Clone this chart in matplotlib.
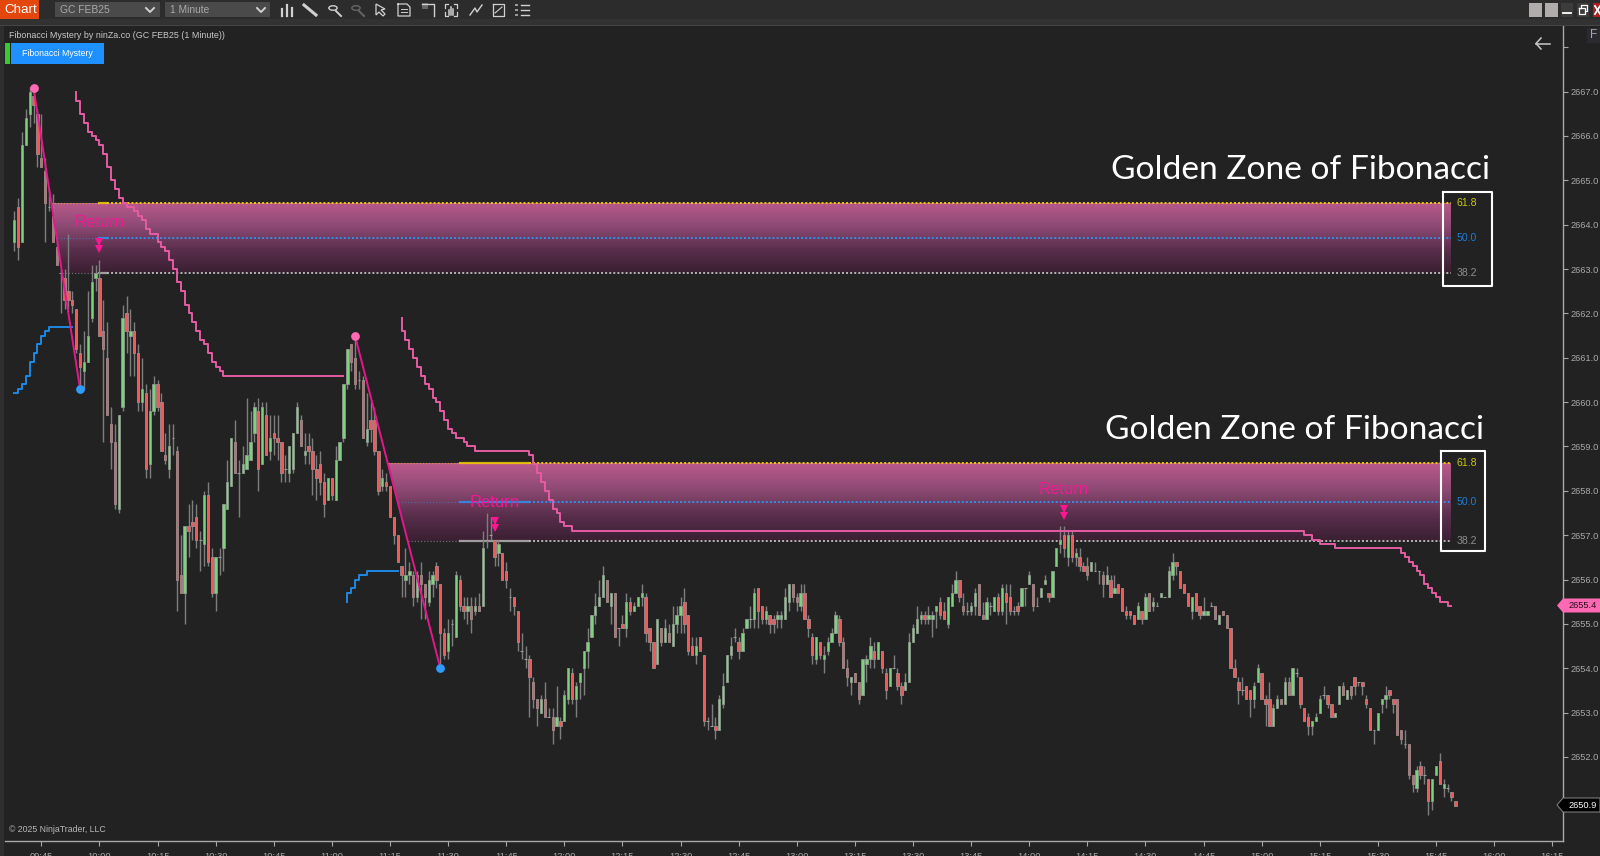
import numpy as np
import matplotlib
matplotlib.use('Agg')
import matplotlib.pyplot as plt
from matplotlib.colors import LinearSegmentedColormap
from matplotlib.patches import Polygon, Rectangle, Circle

plt.rcParams['font.family'] = ['Liberation Sans', 'DejaVu Sans']

# 1 minute candles, first bar is 09:38 (minute of day 578), ten bars per row
first_minute = 578
opens = [
    2663.6, 2664.4, 2663.6, 2665.8, 2666.5, 2666.9, 2666.5, 2665.5, 2665.2, 2664.4,
    2664.2, 2663.5, 2662.9, 2662.8, 2662.5, 2662.3, 2662.1, 2661.1, 2660.7, 2660.9,
    2661.9, 2662.8, 2662.8, 2661.6, 2661.0, 2659.5, 2659.1, 2657.6, 2659.9, 2662.0,
    2661.5, 2661.6, 2661.1, 2660.0, 2660.2, 2658.6, 2659.8, 2660.4, 2660.0, 2658.8,
    2658.5, 2659.2, 2658.9, 2656.1, 2655.7, 2657.2, 2657.3, 2657.4, 2656.9, 2656.8,
    2657.9, 2656.5, 2655.7, 2656.5, 2656.7, 2657.6, 2658.1, 2659.1, 2658.4, 2658.4,
    2658.5, 2658.7, 2659.3, 2659.8, 2658.6, 2659.7, 2658.9, 2659.3, 2659.2, 2659.1,
    2658.5, 2658.4, 2658.5, 2659.3, 2659.6, 2658.8, 2659.0, 2658.9, 2658.5, 2658.6,
    2658.2, 2657.8, 2658.3, 2657.8, 2658.7, 2659.2, 2660.4, 2661.3, 2661.0, 2660.5,
    2660.5, 2659.1, 2659.6, 2659.6, 2658.9, 2658.1, 2658.2, 2658.1, 2657.4, 2657.0,
    2656.3, 2656.0, 2656.1, 2656.1, 2655.6, 2656.1, 2655.9, 2655.5, 2655.9, 2656.3,
    2655.9, 2654.8, 2654.4, 2655.0, 2654.7, 2656.0, 2655.4, 2655.3, 2655.4, 2655.3,
    2655.4, 2655.4, 2656.9, 2657.0, 2656.9, 2656.6, 2656.6, 2656.2, 2655.6, 2655.6,
    2655.3, 2654.4, 2654.2, 2654.2, 2653.7, 2653.3, 2653.0, 2653.3, 2652.9, 2652.9,
    2652.7, 2652.8, 2652.8, 2653.3, 2653.9, 2653.3, 2653.7, 2654.0, 2654.4, 2654.7,
    2655.2, 2655.4, 2655.6, 2656.0, 2655.4, 2655.7, 2654.9, 2655.0, 2654.9, 2655.5,
    2655.3, 2655.4, 2655.6, 2655.6, 2654.9, 2654.6, 2654.1, 2654.9, 2654.6, 2654.8,
    2654.5, 2655.0, 2655.2, 2655.5, 2655.2, 2654.5, 2654.3, 2654.7, 2654.3, 2652.8,
    2652.7, 2652.7, 2652.6, 2653.2, 2653.7, 2654.3, 2654.7, 2654.6, 2654.4, 2654.9,
    2655.1, 2655.1, 2655.8, 2655.4, 2655.1, 2655.2, 2655.1, 2655.1, 2655.1, 2655.1,
    2655.5, 2655.9, 2655.6, 2655.4, 2655.7, 2655.1, 2654.7, 2654.2, 2654.6, 2654.2,
    2654.4, 2654.6, 2654.8, 2655.1, 2654.6, 2654.0, 2653.7, 2653.9, 2653.7, 2653.4,
    2654.1, 2654.2, 2654.4, 2654.2, 2654.4, 2653.9, 2653.6, 2654.0, 2653.9, 2653.6,
    2653.5, 2653.7, 2654.6, 2654.8, 2655.1, 2655.2, 2655.1, 2655.1, 2655.3, 2655.5,
    2655.3, 2655.0, 2655.4, 2655.7, 2656.0, 2655.4, 2655.3, 2655.3, 2655.4, 2655.9,
    2655.2, 2655.1, 2655.4, 2655.3, 2655.6, 2655.3, 2655.7, 2655.6, 2655.3, 2655.4,
    2655.4, 2655.8, 2655.9, 2655.9, 2655.4, 2655.6, 2655.9, 2655.7, 2655.6, 2656.3,
    2656.8, 2657.0, 2656.5, 2657.0, 2656.5, 2656.5, 2656.3, 2656.3, 2656.2, 2656.2,
    2656.2, 2656.1, 2655.9, 2656.0, 2655.7, 2655.9, 2655.8, 2655.3, 2655.3, 2655.2,
    2655.1, 2655.3, 2655.1, 2655.7, 2655.4, 2655.4, 2655.6, 2655.6, 2655.6, 2656.1,
    2656.4, 2656.2, 2655.9, 2655.7, 2655.3, 2655.7, 2655.4, 2655.2, 2655.2, 2655.4,
    2655.4, 2655.0, 2655.3, 2655.2, 2654.9, 2654.0, 2653.7, 2653.5, 2653.6, 2653.5,
    2653.3, 2653.7, 2653.9, 2653.3, 2653.3, 2652.7, 2653.1, 2653.3, 2653.2, 2653.7,
    2653.4, 2653.9, 2653.8, 2653.1, 2652.9, 2652.7, 2652.8, 2653.0, 2653.4, 2653.4,
    2653.2, 2652.9, 2653.2, 2653.6, 2653.3, 2653.6, 2653.8, 2653.7, 2653.7, 2653.3,
    2653.1, 2652.6, 2652.6, 2653.2, 2653.3, 2653.5, 2653.3, 2653.3, 2652.6, 2652.3,
    2652.3, 2651.6, 2651.3, 2651.8, 2651.6, 2651.5, 2651.0, 2651.6, 2651.9, 2651.3,
    2651.3, 2651.2, 2651.0,
]
closes = [
    2664.1, 2663.5, 2665.8, 2666.4, 2667.0, 2666.7, 2665.6, 2665.3, 2664.5, 2664.4,
    2663.6, 2663.1, 2662.9, 2662.3, 2662.3, 2662.2, 2661.2, 2660.8, 2660.9, 2661.5,
    2662.7, 2662.9, 2661.5, 2661.2, 2659.7, 2659.1, 2657.7, 2659.7, 2661.9, 2661.6,
    2661.6, 2661.1, 2660.0, 2660.3, 2658.5, 2659.8, 2660.4, 2659.9, 2658.9, 2658.7,
    2659.0, 2659.2, 2656.0, 2655.7, 2657.2, 2657.1, 2657.2, 2656.9, 2656.9, 2657.9,
    2656.4, 2655.7, 2656.5, 2656.5, 2657.7, 2658.2, 2659.2, 2658.4, 2658.4, 2658.6,
    2658.8, 2659.1, 2659.9, 2658.5, 2659.9, 2658.8, 2659.2, 2659.2, 2659.1, 2658.4,
    2658.5, 2659.0, 2659.3, 2659.9, 2659.0, 2658.9, 2658.9, 2658.5, 2658.3, 2658.2,
    2657.7, 2658.3, 2657.9, 2658.7, 2659.1, 2660.4, 2661.2, 2660.9, 2660.4, 2660.5,
    2659.2, 2659.4, 2659.4, 2658.9, 2658.0, 2658.3, 2658.1, 2657.4, 2657.0, 2656.4,
    2656.1, 2656.1, 2656.2, 2655.6, 2656.1, 2655.9, 2655.6, 2656.0, 2656.1, 2656.0,
    2654.8, 2654.3, 2654.8, 2655.0, 2656.1, 2655.4, 2655.3, 2655.4, 2655.1, 2655.4,
    2655.3, 2656.7, 2656.9, 2657.0, 2656.5, 2656.8, 2656.0, 2656.0, 2655.6, 2655.4,
    2654.6, 2654.4, 2654.2, 2653.8, 2653.3, 2653.1, 2653.3, 2652.9, 2652.9, 2652.6,
    2652.9, 2652.7, 2653.4, 2654.0, 2653.3, 2653.6, 2653.9, 2654.4, 2654.6, 2655.2,
    2655.4, 2655.6, 2656.1, 2655.5, 2655.7, 2654.7, 2654.9, 2654.9, 2655.5, 2655.3,
    2655.4, 2655.6, 2655.7, 2654.8, 2654.6, 2654.0, 2655.1, 2654.6, 2654.9, 2654.6,
    2655.0, 2655.2, 2655.4, 2655.0, 2654.4, 2654.3, 2654.5, 2654.4, 2652.8, 2652.8,
    2652.7, 2652.6, 2653.3, 2653.6, 2654.3, 2654.5, 2654.7, 2654.4, 2654.8, 2655.1,
    2655.1, 2655.7, 2655.3, 2655.1, 2655.3, 2655.0, 2655.0, 2655.2, 2655.2, 2655.6,
    2655.9, 2655.6, 2655.5, 2655.7, 2655.1, 2654.9, 2654.3, 2654.7, 2654.3, 2654.3,
    2654.6, 2654.8, 2655.2, 2654.6, 2654.0, 2653.8, 2653.8, 2653.7, 2653.3, 2654.2,
    2654.2, 2654.5, 2654.2, 2654.6, 2654.0, 2653.5, 2654.0, 2654.0, 2653.6, 2653.4,
    2653.7, 2654.6, 2654.9, 2655.1, 2655.2, 2655.1, 2655.2, 2655.2, 2655.4, 2655.2,
    2655.1, 2655.6, 2655.7, 2656.0, 2655.6, 2655.3, 2655.3, 2655.4, 2655.7, 2655.2,
    2655.1, 2655.5, 2655.4, 2655.6, 2655.3, 2655.8, 2655.5, 2655.3, 2655.3, 2655.3,
    2655.8, 2655.8, 2656.1, 2655.4, 2655.4, 2655.8, 2656.0, 2655.6, 2656.2, 2656.7,
    2656.9, 2656.7, 2657.0, 2656.5, 2656.6, 2656.3, 2656.2, 2656.1, 2656.4, 2656.2,
    2656.2, 2655.9, 2656.1, 2655.6, 2655.8, 2655.7, 2655.3, 2655.2, 2655.2, 2655.0,
    2655.4, 2655.1, 2655.6, 2655.3, 2655.5, 2655.4, 2655.7, 2655.6, 2656.2, 2656.4,
    2656.3, 2655.8, 2655.7, 2655.4, 2655.6, 2655.3, 2655.2, 2655.3, 2655.3, 2655.4,
    2655.1, 2655.2, 2655.2, 2654.9, 2654.0, 2653.8, 2653.5, 2653.5, 2653.3, 2653.3,
    2653.6, 2654.0, 2653.3, 2653.2, 2652.7, 2653.1, 2653.3, 2653.2, 2653.7, 2653.4,
    2654.0, 2653.9, 2653.2, 2652.8, 2652.7, 2652.8, 2652.9, 2653.3, 2653.4, 2653.2,
    2652.9, 2653.0, 2653.6, 2653.4, 2653.5, 2653.4, 2653.6, 2653.7, 2653.6, 2653.2,
    2652.6, 2652.6, 2653.0, 2653.3, 2653.4, 2653.4, 2653.2, 2652.5, 2652.4, 2652.3,
    2651.6, 2651.4, 2651.7, 2651.6, 2651.6, 2651.0, 2651.5, 2651.8, 2651.4, 2651.4,
    2651.3, 2651.1, 2650.9,
]
highs = [
    2664.3, 2664.6, 2666.1, 2666.6, 2667.1, 2667.1, 2666.6, 2666.5, 2665.5, 2664.8,
    2664.7, 2663.6, 2663.0, 2663.0, 2663.8, 2662.5, 2662.1, 2661.3, 2661.6, 2662.5,
    2663.1, 2663.1, 2663.2, 2662.3, 2661.8, 2659.9, 2659.5, 2659.7, 2662.2, 2662.4,
    2662.1, 2661.8, 2661.3, 2661.0, 2660.4, 2660.3, 2660.6, 2660.5, 2660.2, 2659.3,
    2659.5, 2659.5, 2659.0, 2657.0, 2657.2, 2657.7, 2657.8, 2657.7, 2657.1, 2658.0,
    2658.2, 2656.7, 2656.5, 2656.7, 2657.7, 2658.7, 2659.2, 2659.6, 2658.7, 2659.0,
    2660.1, 2659.8, 2660.0, 2660.1, 2660.0, 2660.0, 2659.7, 2659.7, 2659.7, 2659.1,
    2658.8, 2659.0, 2659.3, 2660.0, 2659.7, 2659.3, 2659.3, 2659.2, 2658.8, 2658.9,
    2658.4, 2658.3, 2658.3, 2659.0, 2659.1, 2660.4, 2661.2, 2661.3, 2661.4, 2660.7,
    2660.6, 2660.2, 2660.0, 2659.9, 2658.9, 2658.5, 2658.4, 2658.1, 2657.4, 2657.0,
    2656.3, 2656.7, 2656.4, 2656.2, 2656.2, 2656.4, 2655.9, 2656.2, 2656.2, 2656.4,
    2655.9, 2654.9, 2655.1, 2655.1, 2656.2, 2656.1, 2655.6, 2655.6, 2655.6, 2655.6,
    2655.7, 2657.1, 2657.5, 2657.4, 2656.9, 2656.9, 2656.6, 2656.4, 2655.8, 2655.6,
    2655.3, 2654.8, 2654.5, 2654.3, 2653.8, 2653.3, 2653.4, 2653.7, 2653.1, 2653.1,
    2653.6, 2652.9, 2653.5, 2654.0, 2654.0, 2653.7, 2653.9, 2654.4, 2654.9, 2655.2,
    2655.7, 2656.0, 2656.3, 2656.0, 2655.7, 2655.7, 2654.9, 2655.2, 2655.7, 2655.6,
    2655.5, 2655.6, 2655.9, 2655.7, 2654.9, 2654.6, 2655.1, 2654.9, 2655.1, 2655.0,
    2655.4, 2655.4, 2655.6, 2655.8, 2655.2, 2654.7, 2654.7, 2654.7, 2654.3, 2652.9,
    2653.2, 2652.9, 2653.4, 2653.9, 2654.3, 2654.7, 2654.9, 2654.7, 2654.9, 2655.1,
    2655.4, 2655.8, 2655.8, 2655.4, 2655.4, 2655.2, 2655.2, 2655.3, 2655.3, 2655.8,
    2655.9, 2655.9, 2655.7, 2655.9, 2655.9, 2655.2, 2654.8, 2654.7, 2654.6, 2654.5,
    2654.7, 2654.9, 2655.3, 2655.2, 2654.7, 2654.2, 2653.8, 2653.9, 2653.7, 2654.2,
    2654.3, 2654.7, 2654.6, 2654.6, 2654.4, 2654.0, 2654.0, 2654.3, 2654.0, 2653.7,
    2653.9, 2654.8, 2655.0, 2655.4, 2655.3, 2655.3, 2655.4, 2655.3, 2655.4, 2655.6,
    2655.5, 2655.6, 2655.9, 2656.2, 2656.0, 2655.7, 2655.5, 2655.5, 2655.8, 2655.9,
    2655.5, 2655.6, 2655.5, 2655.6, 2655.7, 2655.9, 2655.9, 2655.9, 2655.4, 2655.5,
    2655.8, 2655.8, 2656.2, 2655.9, 2655.6, 2655.8, 2656.1, 2655.7, 2656.2, 2656.7,
    2657.2, 2657.2, 2657.1, 2657.1, 2656.7, 2656.7, 2656.4, 2656.5, 2656.4, 2656.4,
    2656.2, 2656.2, 2656.3, 2656.1, 2656.1, 2655.9, 2655.8, 2655.4, 2655.3, 2655.2,
    2655.5, 2655.3, 2655.7, 2655.7, 2655.6, 2655.5, 2655.7, 2655.6, 2656.3, 2656.6,
    2656.4, 2656.2, 2655.9, 2655.7, 2655.6, 2655.7, 2655.4, 2655.6, 2655.3, 2655.5,
    2655.4, 2655.2, 2655.3, 2655.2, 2654.9, 2654.2, 2653.8, 2653.8, 2653.6, 2653.5,
    2653.7, 2654.1, 2653.9, 2653.4, 2653.7, 2653.2, 2653.4, 2653.3, 2653.8, 2653.8,
    2654.0, 2654.0, 2653.8, 2653.1, 2653.0, 2652.8, 2653.0, 2653.4, 2653.6, 2653.4,
    2653.2, 2653.0, 2653.6, 2653.7, 2653.5, 2653.6, 2653.8, 2653.7, 2653.7, 2653.4,
    2653.1, 2652.6, 2653.0, 2653.3, 2653.6, 2653.5, 2653.3, 2653.3, 2652.6, 2652.6,
    2652.3, 2651.6, 2651.8, 2651.9, 2651.8, 2651.5, 2651.5, 2651.8, 2652.1, 2651.5,
    2651.4, 2651.2, 2651.0,
]
lows = [
    2663.4, 2663.2, 2663.6, 2665.8, 2666.2, 2666.3, 2665.3, 2665.3, 2663.6, 2664.3,
    2663.6, 2663.1, 2662.0, 2662.1, 2662.1, 2662.0, 2661.1, 2660.3, 2660.3, 2660.9,
    2661.8, 2662.5, 2661.5, 2659.1, 2659.7, 2658.5, 2657.6, 2657.5, 2659.8, 2661.1,
    2660.6, 2660.6, 2659.8, 2659.8, 2658.3, 2658.3, 2659.7, 2659.8, 2658.9, 2658.6,
    2658.3, 2658.8, 2655.3, 2655.7, 2655.0, 2656.5, 2656.9, 2656.7, 2656.2, 2656.3,
    2656.3, 2655.6, 2655.3, 2656.1, 2656.2, 2657.6, 2658.1, 2658.4, 2657.4, 2658.4,
    2658.5, 2658.7, 2659.1, 2658.0, 2658.6, 2658.8, 2658.7, 2658.8, 2658.7, 2658.2,
    2658.2, 2658.2, 2658.4, 2659.3, 2659.0, 2658.6, 2658.6, 2657.9, 2657.8, 2657.9,
    2657.4, 2657.8, 2657.8, 2657.8, 2658.7, 2659.1, 2660.3, 2660.7, 2660.3, 2660.3,
    2659.2, 2659.0, 2659.1, 2658.8, 2657.9, 2658.0, 2658.0, 2657.4, 2656.8, 2656.4,
    2655.6, 2655.6, 2655.9, 2655.4, 2655.5, 2655.1, 2655.1, 2655.4, 2655.6, 2655.8,
    2654.1, 2654.2, 2654.2, 2654.5, 2654.7, 2655.3, 2655.1, 2655.0, 2654.8, 2655.2,
    2655.3, 2655.4, 2656.7, 2656.9, 2656.3, 2656.3, 2656.0, 2655.8, 2655.3, 2655.2,
    2654.4, 2654.2, 2654.0, 2652.9, 2653.1, 2652.7, 2653.0, 2652.9, 2652.9, 2652.3,
    2652.7, 2652.4, 2652.8, 2653.2, 2653.2, 2652.9, 2653.3, 2653.4, 2654.0, 2654.7,
    2655.0, 2655.4, 2655.6, 2655.5, 2655.0, 2654.7, 2654.5, 2654.9, 2654.7, 2655.2,
    2655.3, 2655.4, 2655.4, 2654.6, 2654.4, 2654.0, 2654.1, 2654.5, 2654.6, 2654.6,
    2654.5, 2654.8, 2654.8, 2654.8, 2654.3, 2654.3, 2654.1, 2654.4, 2652.7, 2652.6,
    2652.7, 2652.4, 2652.6, 2653.1, 2653.7, 2654.2, 2654.6, 2654.2, 2654.4, 2654.9,
    2654.9, 2654.9, 2654.9, 2655.0, 2655.0, 2654.8, 2654.8, 2654.9, 2654.9, 2655.1,
    2655.3, 2655.5, 2655.3, 2655.3, 2655.1, 2654.7, 2654.1, 2654.1, 2654.2, 2653.9,
    2654.3, 2654.6, 2654.8, 2654.5, 2654.0, 2653.6, 2653.4, 2653.7, 2653.2, 2653.4,
    2653.7, 2654.0, 2654.0, 2654.2, 2653.9, 2653.3, 2653.6, 2654.0, 2653.5, 2653.2,
    2653.5, 2653.7, 2654.6, 2654.8, 2655.0, 2655.0, 2655.0, 2654.7, 2654.9, 2655.1,
    2655.1, 2654.9, 2655.4, 2655.7, 2655.5, 2655.2, 2655.2, 2655.2, 2655.2, 2655.2,
    2655.1, 2655.1, 2655.2, 2655.3, 2655.2, 2655.2, 2655.0, 2655.2, 2655.2, 2655.2,
    2655.4, 2655.4, 2655.9, 2655.3, 2655.4, 2655.6, 2655.9, 2655.5, 2655.6, 2656.3,
    2656.6, 2656.5, 2656.3, 2656.4, 2656.3, 2656.2, 2656.2, 2656.0, 2656.2, 2656.2,
    2655.9, 2655.6, 2655.9, 2655.6, 2655.7, 2655.7, 2655.3, 2655.1, 2655.1, 2655.0,
    2655.1, 2655.0, 2655.1, 2655.3, 2655.3, 2655.4, 2655.6, 2655.6, 2655.6, 2656.0,
    2656.1, 2655.8, 2655.7, 2655.4, 2655.1, 2655.3, 2655.1, 2655.2, 2655.2, 2655.4,
    2655.1, 2655.0, 2655.2, 2654.9, 2654.0, 2653.8, 2653.2, 2653.4, 2653.3, 2652.9,
    2653.1, 2653.7, 2653.3, 2652.7, 2652.7, 2652.7, 2653.1, 2653.2, 2653.2, 2653.4,
    2653.4, 2653.8, 2653.1, 2652.8, 2652.5, 2652.5, 2652.8, 2653.0, 2653.3, 2653.1,
    2652.9, 2652.9, 2653.2, 2653.4, 2653.3, 2653.3, 2653.4, 2653.6, 2653.4, 2653.1,
    2652.6, 2652.3, 2652.6, 2653.0, 2653.1, 2653.3, 2653.0, 2652.5, 2652.3, 2652.2,
    2651.5, 2651.2, 2651.2, 2651.5, 2651.4, 2650.7, 2650.8, 2651.6, 2651.4, 2651.1,
    2651.2, 2651.0, 2650.9,
]

# trailing stop lines, given where they change level: minute of day and price
upper1_min = [594, 594, 595, 596, 597, 598, 599, 600, 601, 602, 603, 604, 605, 606, 607, 609, 610, 611, 612, 613,
              615, 616, 617, 618, 619, 620, 621, 622, 623, 624, 625, 626, 627, 628, 629, 630, 631, 632, 663]
upper1_val = [2667.0, 2666.8, 2666.5, 2666.3, 2666.1, 2666.0, 2665.9, 2665.8, 2665.6, 2665.3, 2665.0, 2664.8,
              2664.6, 2664.5, 2664.4, 2664.3, 2664.2, 2664.1, 2663.9, 2663.8, 2663.6, 2663.5, 2663.4, 2663.2,
              2663.0, 2662.7, 2662.5, 2662.2, 2662.0, 2661.8, 2661.6, 2661.4, 2661.3, 2661.1, 2660.9, 2660.8,
              2660.7, 2660.6, 2660.6]
upper2_min = [678, 678, 679, 680, 681, 682, 683, 684, 685, 686, 687, 688, 689, 690, 691, 692, 694, 695, 697, 711,
              712, 713, 714, 715, 716, 717, 718, 719, 720, 722, 911, 913, 915, 919, 936, 937, 938, 939, 940, 941,
              942, 943, 944, 945, 946, 948, 949]
upper2_val = [2661.9, 2661.6, 2661.4, 2661.2, 2661.0, 2660.8, 2660.6, 2660.4, 2660.3, 2660.1, 2660.0, 2659.8,
              2659.6, 2659.4, 2659.3, 2659.2, 2659.1, 2659.0, 2658.9, 2658.8, 2658.6, 2658.4, 2658.2, 2658.0,
              2657.8, 2657.6, 2657.5, 2657.3, 2657.2, 2657.1, 2657.0, 2656.9, 2656.8, 2656.7, 2656.6, 2656.5,
              2656.4, 2656.3, 2656.2, 2656.1, 2655.9, 2655.8, 2655.7, 2655.6, 2655.5, 2655.4, 2655.4]
lower1_min = [578, 579, 580, 581, 582, 583, 584, 585, 586, 587, 593]
lower1_val = [2660.2, 2660.3, 2660.4, 2660.6, 2660.9, 2661.1, 2661.3, 2661.5, 2661.6, 2661.7, 2661.7]
lower2_min = [664, 664, 665, 666, 667, 669, 677]
lower2_val = [2655.5, 2655.7, 2655.8, 2656.0, 2656.1, 2656.2, 2656.2]

# swing legs: high then low
swing1_min = [583, 595]
swing1_val = [2667.08, 2660.3]
swing2_min = [666, 688]
swing2_val = [2661.49, 2654.0]

# fibonacci zones
zone1_levels = [2664.5, 2663.7, 2662.9]
zone2_levels = [2658.63, 2657.74, 2656.88]
fib_labels = ['61.8', '50.0', '38.2']
zone_end = 949
zone1_solid = [600, 602]
zone2_solid = [693, 711]

# return signals: minute, text price, arrow price
signal_min = [600, 702, 849]
signal_text = [2664.04, 2657.74, 2658.02]
signal_arrow = [2663.53, 2657.25, 2657.52]

price_ticks = list(range(2651, 2669))
time_ticks = list(range(585, 976, 15))

BG = '#222222'
PINK_LINE = '#E65CA3'
BLUE_LINE = '#1E88E5'
SWING = '#E6168C'
FIB_COLORS = ['#F0CC00', '#2E8FF0', '#B4B4B4']
LABEL_COLORS = ['#C8C810', '#1E7CD8', '#8E8E8E']
W, H = 1600, 856


def fx(x):
    return x / W


def fy(y):
    return 1 - y / H


def fig_rect(x0, y0, x1, y1, color, **kw):
    fig.add_artist(Rectangle((fx(x0), fy(y1)), (x1 - x0) / W, (y1 - y0) / H,
                             transform=fig.transFigure, facecolor=color, edgecolor='none', **kw))


def fig_poly(points, color, edge='none', lw=0):
    pts = [(fx(x), fy(y)) for x, y in points]
    fig.add_artist(Polygon(pts, closed=True, transform=fig.transFigure, facecolor=color, edgecolor=edge, linewidth=lw))


def fig_line(xs, ys, color='#BDBDBD', lw=1.0):
    fig.add_artist(plt.Line2D([fx(x) for x in xs], [fy(y) for y in ys], transform=fig.transFigure,
                              color=color, linewidth=lw))


def fig_text(x, y, s, color, size, ha='left', family=None):
    kw = {'family': family} if family else {}
    fig.text(fx(x), fy(y), s, color=color, fontsize=size, ha=ha, va='center', **kw)


fig = plt.figure(figsize=(16, 8.56), dpi=100, facecolor=BG)
ax = fig.add_axes([fx(5), fy(841), (1562.7 - 5) / W, (841 - 26) / H])
ax.set_facecolor(BG)

minutes = first_minute + np.arange(len(opens))
opens = np.array(opens)
closes = np.array(closes)
highs = np.array(highs)
lows = np.array(lows)


# gradient band with its left side cut along the swing leg
def draw_zone(levels, leg_min, leg_val, solid):
    top, mid, bottom = levels
    left_top = np.interp(-top, -np.array(leg_val), leg_min)
    left_bottom = np.interp(-bottom, -np.array(leg_val), leg_min)
    cmap = LinearSegmentedColormap.from_list('zone', ['#BA5A8C', '#8E4A74', '#5A2F4C', '#3A1F32'])
    grad = np.linspace(0, 1, 256).reshape(-1, 1)
    im = ax.imshow(grad, extent=[left_top, zone_end, bottom, top], aspect='auto', cmap=cmap, zorder=1)
    im.set_clip_path(Polygon([(left_top, top), (zone_end, top), (zone_end, bottom), (left_bottom, bottom)],
                             transform=ax.transData))
    for level, col, lab_col, lab in zip(levels, FIB_COLORS, LABEL_COLORS, fib_labels):
        left = np.interp(-level, -np.array(leg_val), leg_min)
        ax.plot([left, solid[0]], [level, level], color=col, lw=0.9, alpha=0.5, ls=(0, (1, 1.5)), zorder=2)
        ax.plot(solid, [level, level], color=col, lw=1.6, alpha=0.85, zorder=2)
        ax.plot([solid[1], zone_end], [level, level], color=col, lw=1.4, ls=(0, (1, 1.1)), zorder=2)
        ax.text(950.2, level, lab, color=lab_col, fontsize=7.6, va='center', ha='left', zorder=6)


draw_zone(zone1_levels, swing1_min, swing1_val, zone1_solid)
draw_zone(zone2_levels, swing2_min, swing2_val, zone2_solid)

# candles, thin gray edge keeps them soft like the screenshot
up = closes > opens
down = closes < opens
flat = closes == opens
ax.vlines(minutes, lows, highs, color='#7E7E7E', linewidth=1.0, zorder=3)
ax.bar(minutes[up], (closes - opens)[up], bottom=opens[up], width=0.6, color='#7FD07F',
       edgecolor='#8A9A8A', linewidth=0.6, zorder=4)
ax.bar(minutes[down], (opens - closes)[down], bottom=closes[down], width=0.6, color='#EE5A5A',
       edgecolor='#A08A8A', linewidth=0.6, zorder=4)
ax.hlines(opens[flat], minutes[flat] - 0.36, minutes[flat] + 0.36, color='#9A9A9A', linewidth=0.8, zorder=4)

# trailing lines
ax.plot(upper1_min, upper1_val, drawstyle='steps-post', color=PINK_LINE, lw=1.4, zorder=5)
ax.plot(upper2_min, upper2_val, drawstyle='steps-post', color=PINK_LINE, lw=1.4, zorder=5)
ax.plot(lower1_min, lower1_val, drawstyle='steps-post', color=BLUE_LINE, lw=1.4, zorder=5)
ax.plot(lower2_min, lower2_val, drawstyle='steps-post', color=BLUE_LINE, lw=1.4, zorder=5)

# swings and their end dots
for leg_min, leg_val in [(swing1_min, swing1_val), (swing2_min, swing2_val)]:
    ax.plot(leg_min, leg_val, color=SWING, lw=1.4, zorder=6)
    ax.plot(leg_min[0], leg_val[0], 'o', color='#FF69B4', ms=6.3, mew=0, zorder=7)
    ax.plot(leg_min[1], leg_val[1], 'o', color='#2E9BFF', ms=6.3, mew=0, zorder=7)

# return text and double arrows
for m, t, a in zip(signal_min, signal_text, signal_arrow):
    ax.text(m, t, 'Return', color='#F01A92', fontsize=12, ha='center', va='center', zorder=7)
    ax.plot([m, m], [a + 0.07, a - 0.08], 'v', color='#FF1493', ms=5.4, mew=0, zorder=7)
    ax.plot([m, m], [a + 0.16, a - 0.1], color='#FF1493', lw=0.9, zorder=7)

ax.set_xlim(575.63, 977.71)
ax.set_ylim(2650.105, 2668.48)

for side in ['top', 'left']:
    ax.spines[side].set_visible(False)
for side in ['right', 'bottom']:
    ax.spines[side].set_color('#A8A8A8')
    ax.spines[side].set_linewidth(1.0)

ax.yaxis.tick_right()
ax.set_yticks(price_ticks)
ax.set_yticklabels(['%.1f' % p if p != 2668 else '' for p in price_ticks])
ax.set_xticks(time_ticks)
ax.set_xticklabels(['%02d:%02d' % (m // 60, m % 60) for m in time_ticks])
ax.tick_params(axis='y', colors='#A8A8A8', labelsize=6.7, length=3.5, width=0.8, pad=2, labelcolor='#A8A8A8')
ax.tick_params(axis='x', colors='#A8A8A8', labelsize=6.7, length=3.5, width=0.8, pad=4.5, labelcolor='#A8A8A8')

# top toolbar
fig_rect(0, 0, W, 19, '#2C2C2C')
fig_rect(0, 19, W, 25, '#323232')
fig_rect(0, 25, W, 26, '#444444')
fig_rect(0, 26, 4, H, '#2E2E2E')
fig_rect(0, 0, 39, 19, '#E4470E')
fig_text(4, 10, 'Chart', 'white', 9.6)
fig_rect(55, 2, 160, 17, '#4A4A4A')
fig_text(60, 10, 'GC FEB25', '#A8A8A8', 7.4)
fig_line([146, 150, 154], [8, 12, 8], '#D0D0D0', 1.4)
fig_rect(165, 2, 270, 17, '#4A4A4A')
fig_text(170, 10, '1 Minute', '#A8A8A8', 7.4)
fig_line([257, 261, 265], [8, 12, 8], '#D0D0D0', 1.4)

# toolbar icons
for x, h0 in [(282, 9), (287, 5), (292, 8)]:
    fig_line([x, x], [h0, 16], '#D0D0D0', 1.6)
fig_line([304, 316], [5, 15], '#D0D0D0', 2.2)
for x, col in [(333, '#D0D0D0'), (356, '#666666')]:
    fig.add_artist(Circle((fx(x), fy(8)), 0.0026, transform=fig.transFigure, facecolor='none', edgecolor=col, lw=1.0))
    fig_line([x + 3, x + 8], [11, 16], col, 1.4)
fig_poly([(376, 4), (376, 15), (379, 12), (383, 16), (385, 14), (381, 10), (385, 9)], '#2C2C2C', '#D0D0D0', 0.9)
fig_line([398, 407, 410, 410, 398, 398], [4, 4, 7, 16, 16, 4], '#D0D0D0', 0.9)
fig_line([401, 407], [9, 9], '#D0D0D0', 0.7)
fig_line([401, 407], [12, 12], '#D0D0D0', 0.7)
fig_line([422, 434, 434], [4, 4, 16], '#D0D0D0', 1.0)
fig_rect(422, 3, 428, 9, '#666666')
fig_line([445, 445, 448], [8, 4, 4], '#D0D0D0', 0.9)
fig_line([454, 457, 457], [4, 4, 8], '#D0D0D0', 0.9)
fig_line([445, 445, 448], [12, 16, 16], '#D0D0D0', 0.9)
fig_line([454, 457, 457], [16, 16, 12], '#D0D0D0', 0.9)
for x, h0 in [(449, 10), (451, 7), (453, 9)]:
    fig_line([x, x], [h0, 15], '#D0D0D0', 1.1)
fig_line([470, 475, 477, 482], [15, 8, 12, 5], '#D0D0D0', 1.0)
fig_line([493, 504, 504, 493, 493], [4, 4, 16, 16, 4], '#D0D0D0', 0.9)
fig_line([495, 502], [13, 7], '#D0D0D0', 0.8)
for y in [5, 10, 15]:
    fig_rect(515, y - 1, 518, y + 1, '#9A9A9A')
    fig_line([521, 529], [y, y], '#D0D0D0', 1.0)

# window buttons
fig_rect(1529, 3, 1541.7, 17, '#B0ACAC')
fig_rect(1545, 3, 1557.7, 17, '#B0ACAC')
fig_rect(1560.7, 3, 1573, 17, '#3C3C3C')
fig_line([1563, 1571], [13, 13], 'white', 1.3)
fig_rect(1576.7, 3, 1589, 17, '#3C3C3C')
fig_line([1581, 1581, 1587, 1587, 1585], [8, 5, 5, 11, 11], 'white', 0.9)
fig_line([1579, 1585, 1585, 1579, 1579], [8, 8, 14, 14, 8], 'white', 0.9)
fig_rect(1592.7, 3, 1600, 17, '#A82020')
fig_line([1595, 1600], [6, 14], 'white', 1.3)
fig_line([1595, 1600], [14, 6], 'white', 1.3)

# chart header
fig_text(9.3, 35.7, 'Fibonacci Mystery by ninZa.co (GC FEB25 (1 Minute))', '#C8C8C8', 6.4)
fig_rect(5, 42.7, 10, 64, '#33CC33')
fig_rect(11, 42.7, 103.6, 64, '#1E90FF')
fig_text(57.3, 53.7, 'Fibonacci Mystery', 'white', 6.3, ha='center')
fig_text(9, 830, '\u00a9 2025 NinjaTrader, LLC', '#B8B8B8', 6.3)

# back arrow and F button
fig_line([1536, 1550], [43.5, 43.5], '#C8C8C8', 1.1)
fig_line([1541, 1536, 1541], [38, 43.5, 49], '#C8C8C8', 1.1)
fig_rect(1586.7, 28, 1600, 43, '#2A2A30')
fig_text(1590, 35.5, 'F', '#A8A8A8', 8.5)

# annotations on the picture
fig_text(1490, 170, 'Golden Zone of Fibonacci', 'white', 24.1, ha='right', family='Lato')
fig_text(1484, 430, 'Golden Zone of Fibonacci', 'white', 24.1, ha='right', family='Lato')
for x0, y0, x1, y1 in [(1443.3, 192, 1491.7, 286), (1441, 451, 1485, 551)]:
    fig_line([x0, x1, x1, x0, x0], [y0, y0, y1, y1, y0], 'white', 1.5)

# price flags on the right axis
fig_poly([(1557, 605.5), (1563, 598.5), (1600, 598.5), (1600, 612.5), (1563, 612.5)], '#FF69B4')
fig_text(1569, 605.7, '2655.4', '#2A0A1A', 6.7)
fig_poly([(1557, 805), (1563, 798), (1600, 798), (1600, 812), (1563, 812)], '#000000', '#888888', 0.7)
fig_text(1569, 805.2, '2650.9', 'white', 6.7)

plt.savefig('out.png', dpi=100, facecolor=fig.get_facecolor())
